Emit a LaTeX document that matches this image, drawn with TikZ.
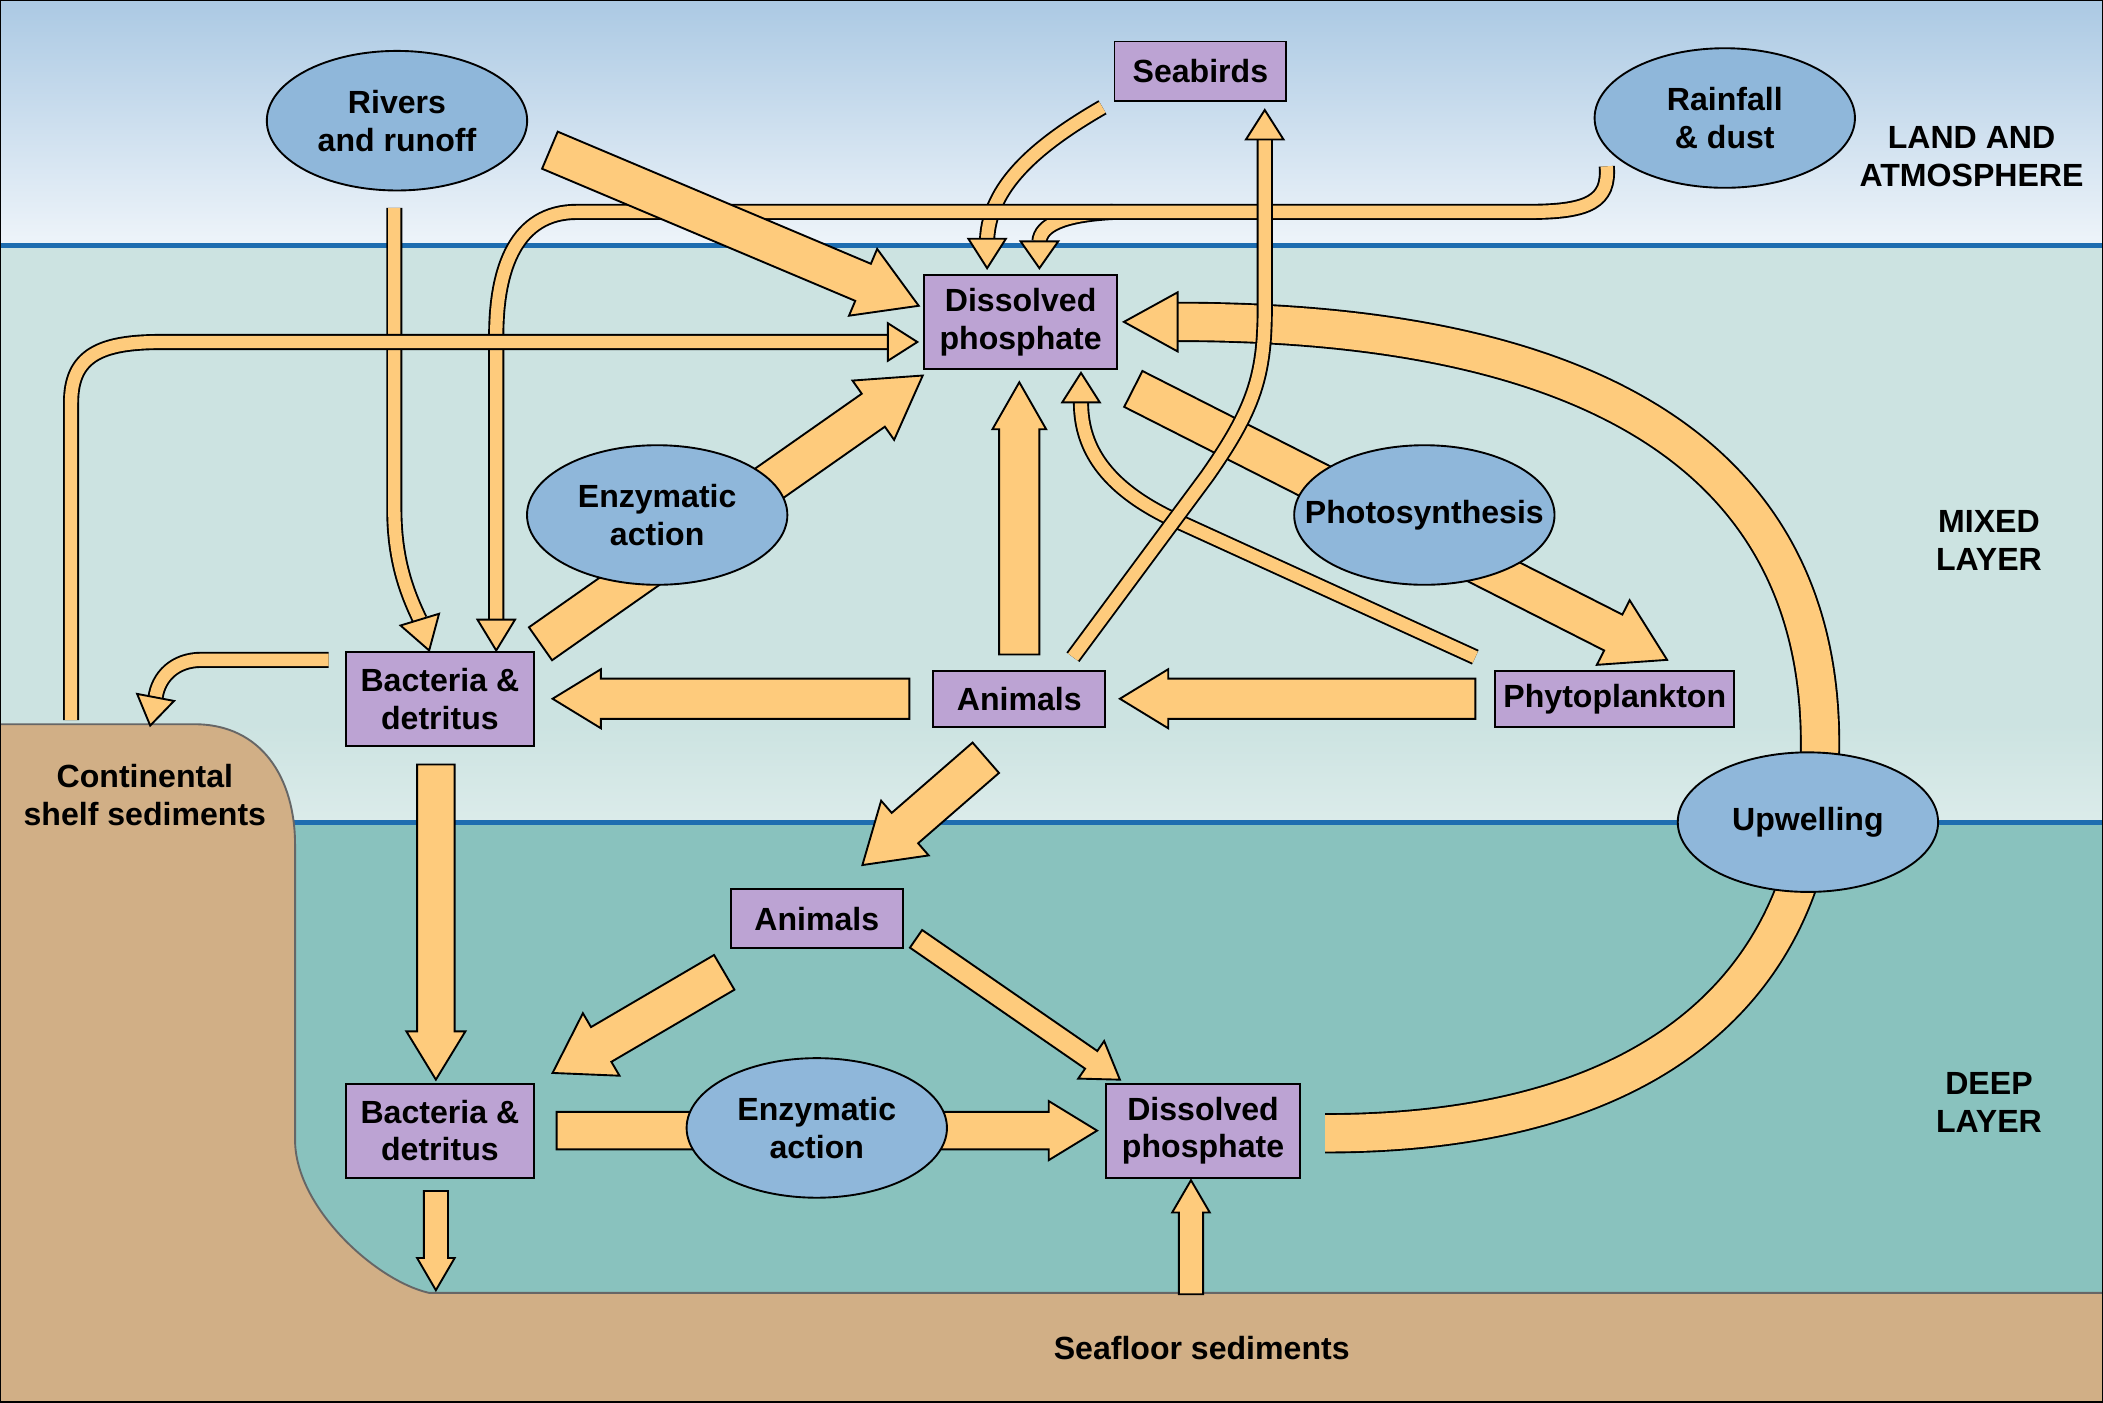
\documentclass[tikz,border=0pt]{standalone}
\usepackage{fontspec}
\setmainfont{Liberation Sans}
\usetikzlibrary{calc,shapes.geometric}
\definecolor{boxc}{HTML}{BCA3D3}
\definecolor{ellc}{HTML}{8FB7DA}
\definecolor{arrc}{HTML}{FECB7C}
\definecolor{sedc}{HTML}{D1AF86}
\definecolor{linec}{HTML}{1E6DB0}
\definecolor{mixc}{HTML}{CCE3E1}
\definecolor{deepc}{HTML}{89C2BE}
\tikzset{
  arr/.style={draw=black, fill=arrc, line width=0.4pt, line join=miter},
  pipe/.style={draw=black, line width=#1, line cap=butt,
    postaction={draw=arrc, line width=#1-0.8pt, line cap=butt}},
  box/.style={draw, fill=boxc, inner sep=0pt, align=center,
    minimum height=0.7cm, font=\fontsize{6.8}{8}\selectfont\bfseries},
  oval/.style={draw, ellipse, fill=ellc, inner sep=0pt, align=center,
    minimum width=1.94cm, minimum height=1.04cm, font=\fontsize{6.8}{8}\selectfont\bfseries},
  lbl/.style={align=center, font=\fontsize{6.8}{8}\selectfont\bfseries}
}
% straight block arrow: start, tip, shaft half width, head half width, head length
\newcommand\fatarrow[5]{%
  \coordinate (fa-a) at #1; \coordinate (fa-t) at #2;
  \coordinate (fa-h) at ($(fa-t)!#5!(fa-a)$);
  \filldraw[arr] ($(fa-a)!#3!90:(fa-t)$) -- ($(fa-h)!#3!90:(fa-t)$)
    -- ($(fa-h)!#4!90:(fa-t)$) -- (fa-t) -- ($(fa-h)!#4!-90:(fa-t)$)
    -- ($(fa-h)!#3!-90:(fa-t)$) -- ($(fa-a)!#3!-90:(fa-t)$) -- cycle;}
% arrow head only: base centre, tip, half width
\newcommand\ahead[3]{%
  \coordinate (ah-p) at #1; \coordinate (ah-t) at #2;
  \filldraw[arr] ($(ah-p)!#3!90:(ah-t)$) -- (ah-t) -- ($(ah-p)!#3!-90:(ah-t)$) -- cycle;}
\begin{document}
\begin{tikzpicture}[x=0.01cm, y=-0.01cm]
\useasboundingbox (0,0) rectangle (1568,1046);
% background
\shade[top color=ellc!75!white, bottom color=ellc!15!white] (0,0) rectangle (1568,183);
\fill[mixc] (0,183) rectangle (1568,613);
\shade[top color=mixc, bottom color=mixc!70!white] (0,540) rectangle (1568,613);
\fill[deepc] (0,613) rectangle (1568,964);
\draw[linec, line width=1pt] (0,183) -- (1568,183) (0,613) -- (1568,613);
\filldraw[sedc, draw=black!60, line width=0.4pt] (0,540) -- (145,540)
  .. controls (195,540) and (220,580) .. (220,630) -- (220,850)
  .. controls (220,900) and (280,955) .. (320,964) -- (1568,964)
  -- (1568,1046) -- (0,1046) -- cycle;
\draw[line width=0.6pt] (0,0) rectangle (1568,1046);

% thin pipes
\draw[pipe=0.12cm] (294,155) -- (294,380) .. controls (294,420) and (305,445) .. (313,462);
\ahead{(313,462)}{(320,485)}{0.15cm}
\draw[pipe=0.12cm] (822,80) .. controls (770,110) and (738,140) .. (736,178);
\ahead{(736,178)}{(736,200)}{0.14cm}
\draw[pipe=0.12cm] (830,158) .. controls (792,160) and (776,168) .. (775,180);
\ahead{(775,180)}{(775,200)}{0.14cm}
\draw[pipe=0.12cm] (1198,124) .. controls (1200,150) and (1185,158) .. (1140,158)
  -- (430,158) .. controls (385,158) and (370,200) .. (370,250) -- (370,462);
\ahead{(370,462)}{(370,485)}{0.14cm}
\draw[pipe=0.12cm] (53,537) -- (53,300) .. controls (53,265) and (75,255) .. (120,255) -- (662,255);
\ahead{(662,255)}{(684,255)}{0.14cm}
\draw[pipe=0.12cm] (245,492) -- (150,492) .. controls (130,492) and (118,505) .. (116,520);
\ahead{(116,520)}{(112,541)}{0.14cm}

% big arrows
\fatarrow{(410,112)}{(685,228)}{0.15cm}{0.27cm}{0.45cm}
\fatarrow{(403,480)}{(688,280)}{0.15cm}{0.27cm}{0.45cm}
\fatarrow{(845,290)}{(1243,492)}{0.15cm}{0.27cm}{0.45cm}
\fatarrow{(760,488)}{(760,285)}{0.15cm}{0.2cm}{0.35cm}
\draw[pipe=0.12cm] (1100,490) -- (870,385) .. controls (820,360) and (806,330) .. (806,300);
\ahead{(806,300)}{(806,278)}{0.14cm}
\fatarrow{(1100,521)}{(835,521)}{0.15cm}{0.22cm}{0.36cm}
\fatarrow{(678,521)}{(412,521)}{0.15cm}{0.22cm}{0.36cm}
\fatarrow{(735,565)}{(643,645)}{0.15cm}{0.27cm}{0.42cm}
\fatarrow{(325,570)}{(325,805)}{0.14cm}{0.22cm}{0.36cm}
\fatarrow{(540,725)}{(412,800)}{0.15cm}{0.27cm}{0.42cm}
\fatarrow{(683,700)}{(835,805)}{0.08cm}{0.17cm}{0.26cm}
\fatarrow{(415,843)}{(818,843)}{0.14cm}{0.22cm}{0.36cm}
\fatarrow{(325,888)}{(325,962)}{0.09cm}{0.14cm}{0.24cm}
\fatarrow{(888,965)}{(888,880)}{0.09cm}{0.14cm}{0.24cm}
\draw[pipe=0.3cm] (988,845) .. controls (1250,845) and (1355,720) .. (1357,560)
  .. controls (1360,350) and (1200,240) .. (878,240);
\ahead{(878,240)}{(838,240)}{0.22cm}
\draw[pipe=0.12cm] (800,490) -- (900,355) .. controls (935,305) and (943,280) .. (943,230) -- (943,104);
\ahead{(943,104)}{(943,82)}{0.14cm}

% nodes
\node[box, minimum width=1.28cm, minimum height=0.44cm] (seabirds) at (895,53) {Seabirds};
\node[box, minimum width=1.44cm] (dissolvedtop) at (761,240) {Dissolved\\phosphate};
\node[box, minimum width=1.40cm] (bacteriatop) at (328,521) {Bacteria \&\\detritus};
\node[box, minimum width=1.28cm, minimum height=0.42cm] (animalstop) at (760,521) {Animals};
\node[box, minimum width=1.78cm, minimum height=0.42cm] (phyto) at (1204,521) {Phytoplankton};
\node[box, minimum width=1.28cm, minimum height=0.44cm] (animalsdeep) at (609,685) {Animals};
\node[box, minimum width=1.40cm] (bacteriadeep) at (328,843) {Bacteria \&\\detritus};
\node[box, minimum width=1.44cm] (dissolveddeep) at (897,843) {Dissolved\\phosphate};
\node[oval] (rivers) at (296,90) {Rivers\\and runoff};
\node[oval] (rainfall) at (1286,88) {Rainfall\\\& dust};
\node[oval] (enzymetop) at (490,384) {Enzymatic\\action};
\node[oval, inner xsep=-0.22cm] (photo) at (1062,384) {Photosynthesis};
\node[oval] (upwelling) at (1348,613) {Upwelling};
\node[oval] (enzymedeep) at (609,841) {Enzymatic\\action};

% labels
\node[lbl] (landatm) at (1470,117) {LAND AND\\ATMOSPHERE};
\node[lbl] (mixed) at (1483,403) {MIXED\\LAYER};
\node[lbl] (deep) at (1483,822) {DEEP\\LAYER};
\node[lbl] (shelf) at (108,593) {Continental\\shelf sediments};
\node[lbl] (seafloor) at (896,1005) {Seafloor sediments};
\end{tikzpicture}
\end{document}
